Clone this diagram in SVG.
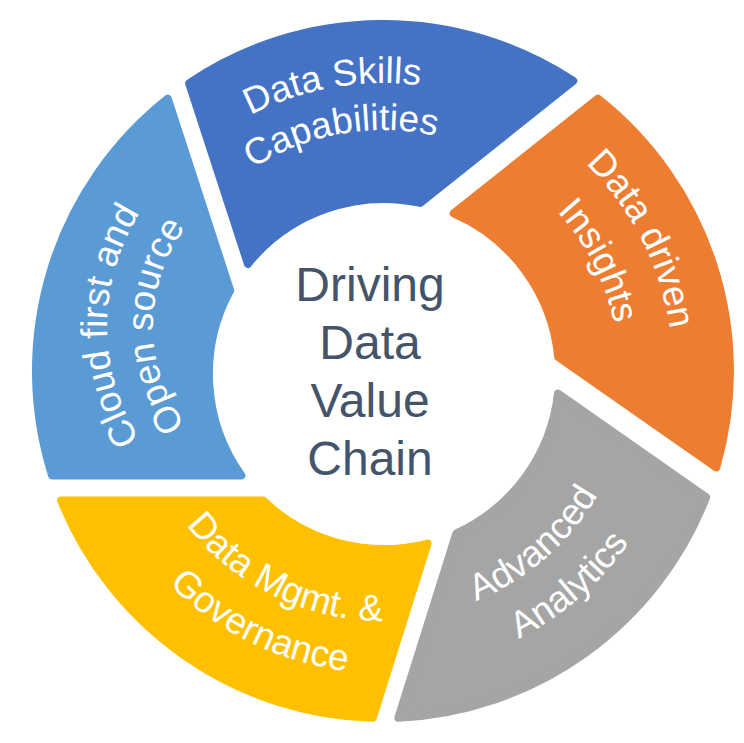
<svg xmlns="http://www.w3.org/2000/svg" width="744" height="743" viewBox="0 0 744 743">
<style>
.seg{stroke-width:8;stroke-linejoin:round}
.lbl{font-family:"Liberation Sans",Arial,sans-serif;font-size:37px;fill:#FFFFFF;text-anchor:middle}
.ctr{font-family:"Liberation Sans",Arial,sans-serif;font-size:48px;fill:#44546A;text-anchor:middle}
</style>
<defs>
<path id="tp-cloud1" d="M 212.5 508.7 A 211 211 0 0 1 212.5 143.3"/>
<path id="tp-cloud2" d="M 235.5 468.9 A 165 165 0 0 1 235.5 183.1"/>
<path id="tp-skills1" d="M 112.4 272.5 A 288 288 0 0 1 603.6 185.9"/>
<path id="tp-skills2" d="M 156.6 288.6 A 241 241 0 0 1 567.6 216.1"/>
<path id="tp-orange1" d="M 398.2 81.4 A 290 290 0 0 1 626.2 529.0"/>
<path id="tp-orange2" d="M 395.3 135.3 A 236 236 0 0 1 580.9 499.5"/>
<path id="tp-gray1" d="M 302.3 605.5 A 248 248 0 0 0 626.4 323.7"/>
<path id="tp-gray2" d="M 285.3 654.7 A 300 300 0 0 0 677.5 313.8"/>
<path id="tp-yellow1" d="M 133.6 388.4 A 250 250 0 0 0 522.8 578.3"/>
<path id="tp-yellow2" d="M 81.7 392.1 A 302 302 0 0 0 551.9 621.4"/>
</defs>
<rect width="744" height="743" fill="#FFFFFF"/>
<g id="cloud-first">
<path class="seg" fill="#5B9BD5" stroke="#5B9BD5" d="M 52.1 475.5 A 347 347 0 0 1 167.8 98.7 L 230.2 290.4 A 175 175 0 0 0 241.4 475.5 Z"/>
<text class="lbl"><textPath href="#tp-cloud1" startOffset="50%">Cloud first and</textPath></text>
<text class="lbl"><textPath href="#tp-cloud2" startOffset="50%">Open source</textPath></text>
</g>
<g id="data-skills">
<path class="seg" fill="#4472C4" stroke="#4472C4" d="M 189.1 83.2 A 347 347 0 0 1 573.3 80.9 L 420.3 202.9 A 175 175 0 0 0 247.9 263.9 Z"/>
<text class="lbl"><textPath href="#tp-skills1" startOffset="50%">Data Skills</textPath></text>
<text class="lbl"><textPath href="#tp-skills2" startOffset="50%">Capabilities</textPath></text>
</g>
<g id="data-insights">
<path class="seg" fill="#ED7D31" stroke="#ED7D31" d="M 597.9 98.6 A 347 347 0 0 1 716.3 467.4 L 558.2 356.9 A 175 175 0 0 0 453.6 213.4 Z"/>
<text class="lbl"><textPath href="#tp-orange1" startOffset="50%">Data driven</textPath></text>
<text class="lbl"><textPath href="#tp-orange2" startOffset="50%">Insights</textPath></text>
</g>
<g id="advanced-analytics">
<path class="seg" fill="#A5A5A5" stroke="#A5A5A5" d="M 706.2 497.2 A 347 347 0 0 1 398.4 717.7 L 456.4 533.3 A 175 175 0 0 0 558.0 393.5 Z"/>
<text class="lbl"><textPath href="#tp-gray1" startOffset="50%">Advanced</textPath></text>
<text class="lbl"><textPath href="#tp-gray2" startOffset="50%">Analytics</textPath></text>
</g>
<g id="data-governance">
<path class="seg" fill="#FFC000" stroke="#FFC000" d="M 372.8 717.8 A 347 347 0 0 1 61.1 500.5 L 263.1 500.5 A 175 175 0 0 0 427.6 543.5 Z"/>
<text class="lbl"><textPath href="#tp-yellow1" startOffset="50%">Data Mgmt. &amp;</textPath></text>
<text class="lbl"><textPath href="#tp-yellow2" startOffset="50%">Governance</textPath></text>
</g>
<g id="center">
<text class="ctr" x="370" y="301">Driving</text>
<text class="ctr" x="370" y="359">Data</text>
<text class="ctr" x="370" y="417">Value</text>
<text class="ctr" x="370" y="475">Chain</text>
</g>
</svg>
